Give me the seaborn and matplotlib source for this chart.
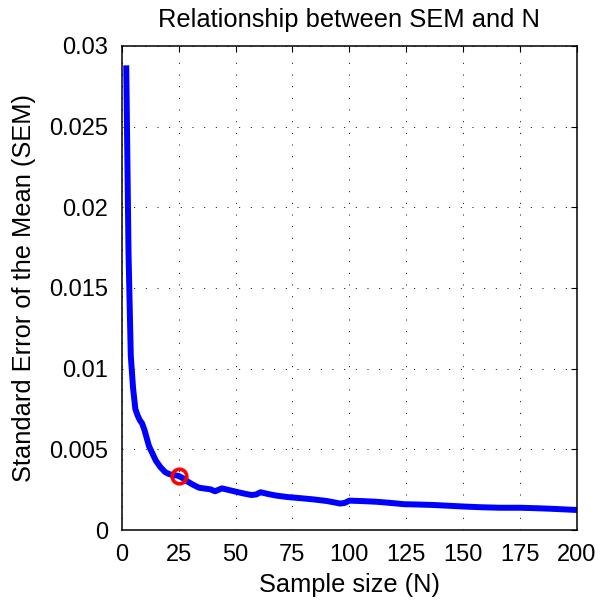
import matplotlib
matplotlib.use("Agg")
import matplotlib.pyplot as plt
import pandas as pd
import seaborn as sns

# values (sample size N vs SEM)
n_vals = [2, 3, 4, 5, 6, 7, 8, 9, 10, 11, 12, 13, 14, 15, 16, 17, 18, 19, 20,
          21, 22, 24, 25, 27, 29, 31, 34, 37, 39, 41, 44, 47, 50, 54, 57, 59,
          61, 64, 68, 73, 78, 84, 90, 96, 98, 100, 106, 112, 118, 124, 130,
          137, 144, 151, 158, 166, 175, 182, 188, 194, 200]
sem_vals = [0.0288, 0.0172, 0.0108, 0.0088, 0.0075, 0.0071, 0.0068, 0.0066,
            0.0062, 0.0057, 0.0052, 0.0049, 0.0046, 0.0043, 0.0041, 0.0039,
            0.00375, 0.0036, 0.00352, 0.00346, 0.00342, 0.00338, 0.00335,
            0.0032, 0.0030, 0.00283, 0.00262, 0.00256, 0.00252, 0.00240,
            0.00258, 0.00248, 0.00238, 0.00225, 0.00217, 0.00220, 0.00234,
            0.00224, 0.00213, 0.00204, 0.00198, 0.00190, 0.00180, 0.00164,
            0.00168, 0.00182, 0.00179, 0.00175, 0.00168, 0.00160, 0.00158,
            0.00155, 0.00150, 0.00145, 0.00141, 0.00138, 0.00138, 0.00135,
            0.00132, 0.00128, 0.00124]

highlight_n = [25]
highlight_sem = [0.00335]

x_ticks = [0, 25, 50, 75, 100, 125, 150, 175, 200]
y_ticks = [0, 0.005, 0.01, 0.015, 0.02, 0.025, 0.03]
y_labels = ["0", "0.005", "0.01", "0.015", "0.02", "0.025", "0.03"]

df = pd.DataFrame({"N": n_vals, "SEM": sem_vals})

sns.set_theme(style="white")
plt.rcParams["font.family"] = ["Liberation Sans", "DejaVu Sans"]

fig = plt.figure(figsize=(6, 6.02), dpi=100)
ax = fig.add_axes([0.2028, 0.1196, 0.7589, 0.804])

sns.lineplot(data=df, x="N", y="SEM", ax=ax, color=(0, 0, 1), linewidth=4.3,
             solid_joinstyle="round", solid_capstyle="butt")
ax.plot(highlight_n, highlight_sem, "o", markersize=10.5, markerfacecolor="none",
        markeredgecolor=(1, 0, 0), markeredgewidth=2.6)

ax.set_xlim(0, 200)
ax.set_ylim(0, 0.03)
ax.set_xticks(x_ticks)
ax.set_yticks(y_ticks)
ax.set_yticklabels(y_labels)

ax.grid(True, color="black", linestyle=(0, (1, 11)), linewidth=0.7)
for s in ax.spines.values():
    s.set_color("black")
    s.set_linewidth(1.1)

ax.tick_params(direction="in", length=4, width=0.8, colors="black",
               top=True, right=True, labelsize=17, pad=10)

ax.set_xlabel("Sample size (N)", fontsize=18.3, color="black", labelpad=5)
ax.set_ylabel("Standard Error of the Mean (SEM)", fontsize=18.3, color="black",
              labelpad=9)
ax.set_title("Relationship between SEM and N", fontsize=18.4, color="black",
             pad=14)

fig.savefig("out.png", dpi=100, facecolor="white")
